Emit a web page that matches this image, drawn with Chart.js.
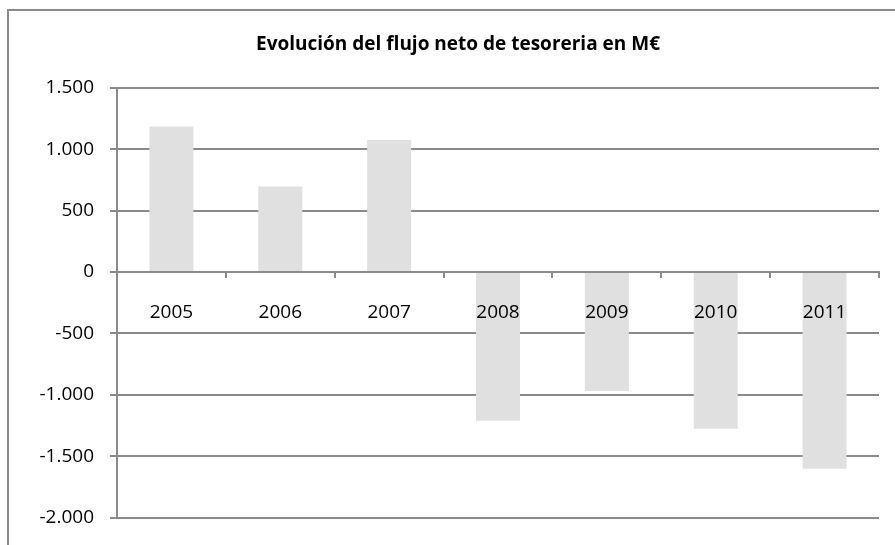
<!DOCTYPE html>
<html>
<head>
<meta charset="utf-8">
<script src="https://cdn.jsdelivr.net/npm/chart.js@4/dist/chart.umd.min.js"></script>
<style>
  html, body { margin: 0; padding: 0; background: #ffffff; }
  #wrap { width: 895px; height: 545px; position: relative; }
</style>
</head>
<body>
<div id="wrap"><canvas id="c"></canvas></div>
<script>
const chartTitle = 'Evolución del flujo neto de tesoreria en M€';
const years = ['2005', '2006', '2007', '2008', '2009', '2010', '2011'];
const netFlow = [1185, 697, 1074, -1212, -970, -1277, -1602];
const yTickValues = [1500, 1000, 500, 0, -500, -1000, -1500, -2000];

function fmtThousands(v) {
  const s = String(Math.abs(Math.round(v)));
  const parts = s.replace(/\B(?=(\d{3})+(?!\d))/g, '.');
  return (v < 0 ? '-' : '') + parts;
}

const frame = {
  id: 'frame',
  beforeDraw(chart) {
    const ctx = chart.ctx;
    ctx.save();
    ctx.fillStyle = '#ffffff';
    ctx.fillRect(0, 0, chart.width, chart.height);
    ctx.strokeStyle = '#8a8a8a';
    ctx.lineWidth = 2;
    ctx.strokeRect(8, 10, chart.width + 20, chart.height + 20);
    ctx.restore();
  }
};

const gray = '#8a8a8a';
const fontFamily = '"Open Sans", "Liberation Sans", Arial, sans-serif';

new Chart(document.getElementById('c'), {
  type: 'bar',
  data: {
    labels: years,
    datasets: [{
      data: netFlow,
      backgroundColor: '#e0e0e0',
      borderWidth: 0,
      barPercentage: 0.404,
      categoryPercentage: 1.0
    }]
  },
  options: {
    responsive: true,
    maintainAspectRatio: false,
    animation: false,
    layout: { padding: { left: 37, right: 16, top: 0, bottom: 23 } },
    plugins: {
      legend: { display: false },
      tooltip: { enabled: false },
      title: {
        display: true,
        text: chartTitle,
        color: '#000000',
        font: { family: fontFamily, size: 19, weight: 'bold' },
        padding: { top: 33, bottom: 32 }
      }
    },
    scales: {
      y: {
        min: -2000,
        max: 1500,
        afterBuildTicks(scale) {
          scale.ticks = yTickValues.map(v => ({ value: v }));
        },
        afterFit(scale) { scale.width = 80; },
        grid: {
          color: gray,
          lineWidth: 2,
          drawTicks: true,
          tickLength: 7,
          tickColor: gray
        },
        border: { display: true, color: gray, width: 2 },
        ticks: {
          color: '#000000',
          padding: 16,
          font: { family: fontFamily, size: 19 },
          callback: (v) => fmtThousands(v)
        }
      },
      x: {
        position: { y: 0 },
        grid: {
          display: true,
          drawOnChartArea: false,
          drawTicks: true,
          tickLength: 5,
          tickColor: gray,
          lineWidth: 2,
          offset: true,
          z: 1
        },
        border: { display: true, color: gray, width: 2, z: 1 },
        ticks: {
          color: '#000000',
          padding: 24,
          maxRotation: 0,
          font: { family: fontFamily, size: 19 },
          z: 1
        }
      }
    }
  },
  plugins: [frame]
});
</script>
</body>
</html>
